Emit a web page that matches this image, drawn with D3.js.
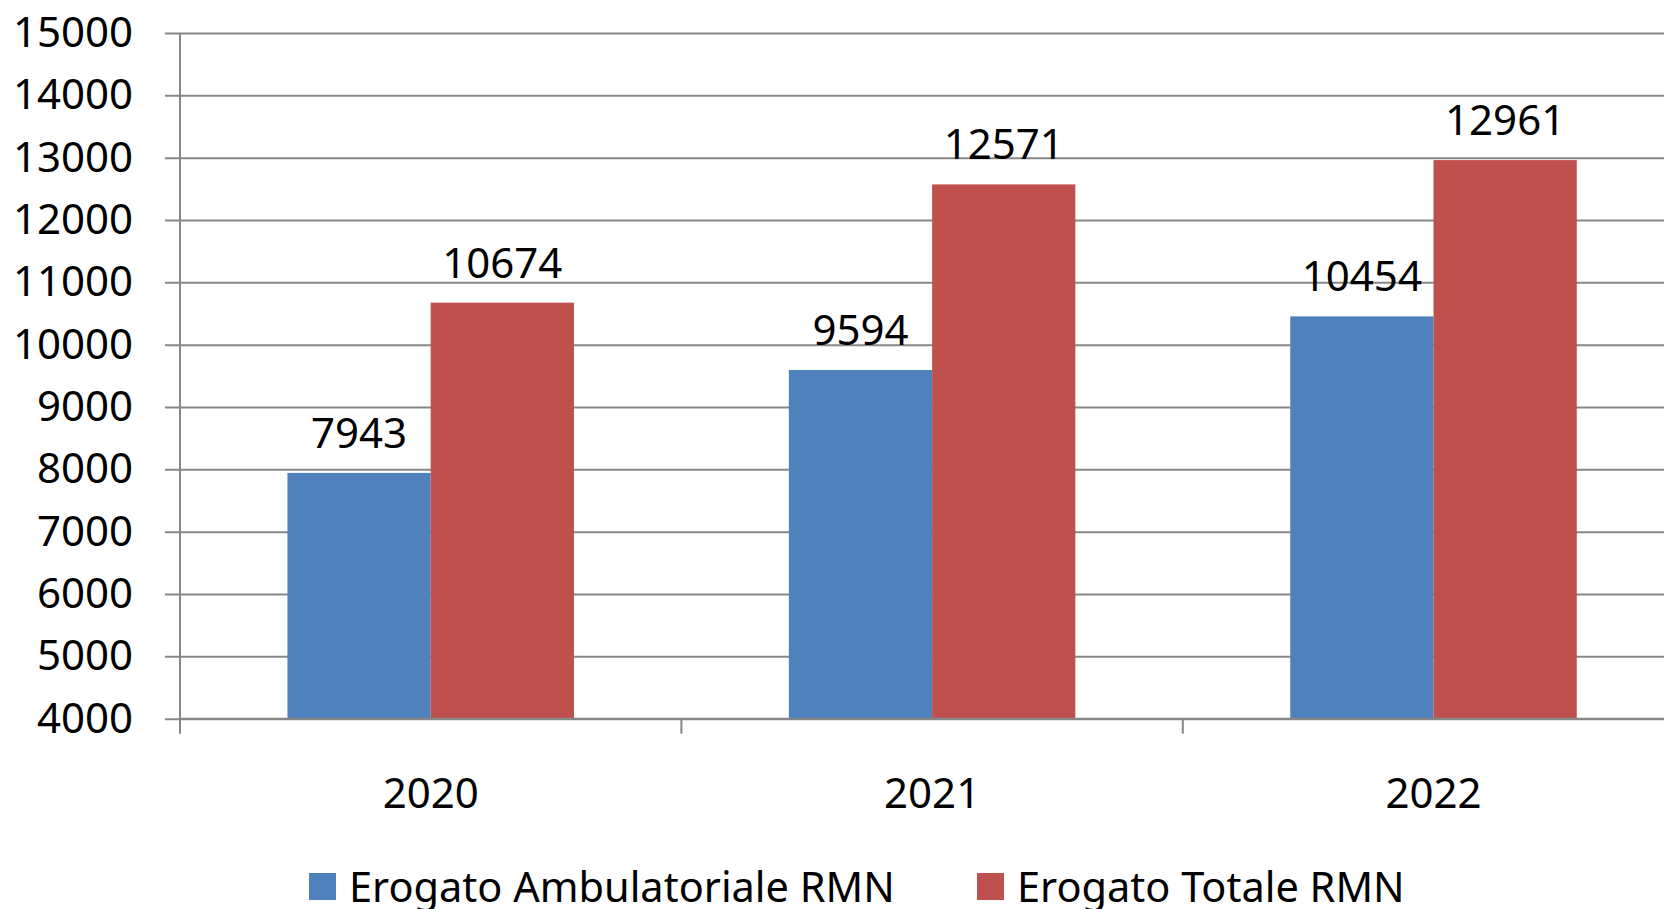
<!DOCTYPE html>
<html>
<head>
<meta charset="utf-8">
<script src="https://cdn.jsdelivr.net/npm/d3@7"></script>
<style>
  body { margin: 0; background: #ffffff; }
  text { font-family: "Noto Sans", "Open Sans", sans-serif; fill: #000000; }
</style>
</head>
<body>
<div id="chart"></div>
<script>
// chart data
var years = ["2020", "2021", "2022"];
var seriesNames = ["Erogato Ambulatoriale RMN", "Erogato Totale RMN"];
var ambulatoriale = [7943, 9594, 10454];
var totale = [10674, 12571, 12961];
var yTicks = [4000, 5000, 6000, 7000, 8000, 9000, 10000, 11000, 12000, 13000, 14000, 15000];
var colors = ["#4F81BD", "#C0504D"];

var svgWidth = 1664;
var svgHeight = 909;

var margin = {
  top: 33,
  left: 180
};

var bandWidth = 501.4;
var width = bandWidth * years.length;
var height = 685.7;

var svg = d3.select("#chart")
  .append("svg")
  .attr("width", svgWidth)
  .attr("height", svgHeight);

var chartGroup = svg.append("g")
  .attr("transform", `translate(${margin.left}, ${margin.top})`);

// build rows for the grouped bars
var rows = years.map(function(y, i) {
  return { year: y, values: [ambulatoriale[i], totale[i]] };
});

var xScale = d3.scaleBand()
  .domain(years)
  .range([0, width])
  .padding(0);

// gap width 150% like the original spreadsheet chart
var barW = xScale.bandwidth() / 3.5;
var x1 = d3.scaleBand()
  .domain([0, 1])
  .range([barW * 0.75, xScale.bandwidth() - barW * 0.75])
  .padding(0);

var yScale = d3.scaleLinear()
  .domain([4000, 15000])
  .range([height, 0]);

// horizontal gridlines with little ticks on the left
var leftAxis = d3.axisLeft(yScale)
  .tickValues(yTicks)
  .tickSize(-(svgWidth - margin.left))
  .tickPadding(47)
  .tickFormat(d3.format("d"));

var yAxis = chartGroup.append("g")
  .attr("class", "y-axis")
  .call(leftAxis);

yAxis.select(".domain").remove();
yAxis.selectAll(".tick line")
  .attr("x1", -15)
  .attr("stroke", "#878787")
  .attr("stroke-width", 2);
yAxis.selectAll(".tick text")
  .attr("font-size", "42px")
  .attr("font-family", "Noto Sans")
  .attr("fill", "#000");

// bars
var groups = chartGroup.selectAll(".year")
  .data(rows)
  .enter()
  .append("g")
  .attr("class", "year")
  .attr("transform", d => `translate(${xScale(d.year)}, 0)`);

groups.selectAll("rect")
  .data(d => d.values)
  .enter()
  .append("rect")
  .attr("x", (d, i) => x1(i))
  .attr("y", d => yScale(d))
  .attr("width", x1.bandwidth())
  .attr("height", d => height - yScale(d))
  .attr("fill", (d, i) => colors[i]);

// value labels on top of bars
groups.selectAll(".val")
  .data(d => d.values)
  .enter()
  .append("text")
  .attr("class", "val")
  .attr("x", (d, i) => x1(i) + x1.bandwidth() / 2)
  .attr("y", d => yScale(d) - 25)
  .attr("text-anchor", "middle")
  .attr("font-size", "42px")
  .text(d => d);

// x axis: baseline, vertical axis line and category ticks
var bottomAxis = d3.axisBottom(xScale)
  .tickSize(0)
  .tickPadding(59);

var xAxis = chartGroup.append("g")
  .attr("class", "x-axis")
  .attr("transform", `translate(0, ${height})`)
  .call(bottomAxis);

xAxis.select(".domain").remove();
xAxis.selectAll(".tick text")
  .attr("font-size", "42px")
  .attr("font-family", "Noto Sans")
  .attr("fill", "#000");

chartGroup.append("line")
  .attr("x1", 0)
  .attr("x2", svgWidth - margin.left)
  .attr("y1", height)
  .attr("y2", height)
  .attr("stroke", "#878787")
  .attr("stroke-width", 2);

chartGroup.selectAll(".cat-tick")
  .data(years)
  .enter()
  .append("line")
  .attr("class", "cat-tick")
  .attr("x1", d => xScale(d))
  .attr("x2", d => xScale(d))
  .attr("y1", d => d === years[0] ? 0 : height)
  .attr("y2", height + 15)
  .attr("stroke", "#878787")
  .attr("stroke-width", 2);

// legend
var legendItems = [
  { name: seriesNames[0], color: colors[0], x: 309 },
  { name: seriesNames[1], color: colors[1], x: 977 }
];

var legend = svg.append("g")
  .attr("class", "legend");

var items = legend.selectAll("g")
  .data(legendItems)
  .enter()
  .append("g")
  .attr("transform", d => `translate(${d.x}, 873)`);

items.append("rect")
  .attr("width", 27)
  .attr("height", 27)
  .attr("fill", d => d.color);

items.append("text")
  .attr("x", 40)
  .attr("y", 29)
  .attr("font-size", "41.5px")
  .text(d => d.name);
</script>
</body>
</html>
